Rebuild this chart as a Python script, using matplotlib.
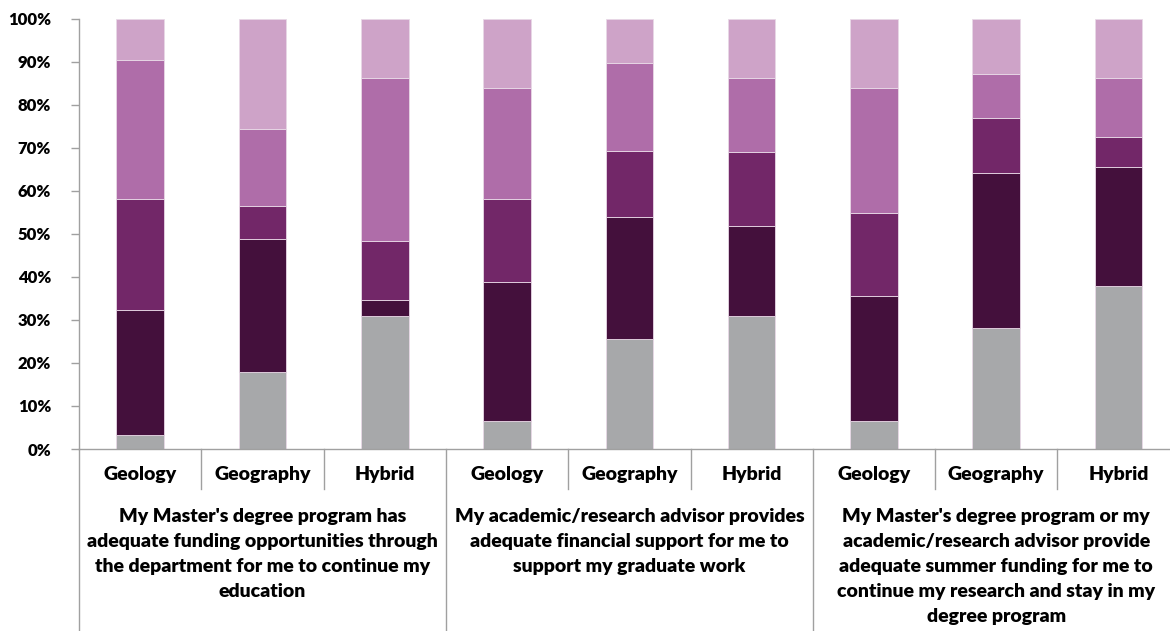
import matplotlib
matplotlib.use('Agg')
import matplotlib.pyplot as plt
import matplotlib.transforms as mtransforms

plt.rcParams['font.family'] = ['Lato', 'DejaVu Sans']
plt.rcParams['font.weight'] = 'heavy'

# Subgroups on the x axis, three per question
programs = ['Geology', 'Geography', 'Hybrid'] * 3
questions = [
    "My Master's degree program has\nadequate funding opportunities through\nthe department for me to continue my\neducation",
    "My academic/research advisor provides\nadequate financial support for me to\nsupport my graduate work",
    "My Master's degree program or my\nacademic/research advisor provide\nadequate summer funding for me to\ncontinue my research and stay in my\ndegree program",
]

# Stacked shares (%), bottom segment first
seg1 = [3.2, 17.9, 31.0, 6.5, 25.6, 31.0, 6.5, 28.2, 37.9]
seg2 = [29.0, 30.8, 3.5, 32.2, 28.2, 20.7, 29.0, 35.9, 27.6]
seg3 = [25.8, 7.7, 13.8, 19.4, 15.4, 17.2, 19.4, 12.8, 6.9]
seg4 = [32.3, 17.9, 37.9, 25.8, 20.5, 17.2, 29.0, 10.3, 13.8]
seg5 = [9.7, 25.6, 13.8, 16.1, 10.3, 13.8, 16.1, 12.8, 13.8]

colors = ['#a7a8aa', '#44103c', '#722768', '#af6da9', '#cea3c8']

fig = plt.figure(figsize=(11.7, 6.31), dpi=100)
ax = fig.add_axes([79 / 1170, 1 - 449 / 631, 1 - 79 / 1170, (449 - 18.5) / 631])

x = list(range(len(programs)))
bottom = [0] * len(x)
for vals, c in zip([seg1, seg2, seg3, seg4, seg5], colors):
    ax.bar(x, vals, width=0.39, bottom=bottom, color=c,
           edgecolor='#e8d8e6', linewidth=0.6)
    bottom = [b + v for b, v in zip(bottom, vals)]

ax.set_ylim(0, 100)
ax.set_xlim(-0.5, -0.5 + 1091 / 122.3)
ax.set_yticks(range(0, 101, 10))
ax.set_yticklabels([f'{v}%' for v in range(0, 101, 10)], fontsize=12, fontweight='heavy')
ax.set_xticks([])
ax.tick_params(axis='y', length=6, width=1, color='#a0a0a0', pad=14)

for s in ['top', 'right']:
    ax.spines[s].set_visible(False)
for s in ['left', 'bottom']:
    ax.spines[s].set_color('#a0a0a0')
    ax.spines[s].set_linewidth(1)

# category separators below the axis
trans = mtransforms.blended_transform_factory(ax.transData, ax.transAxes)
for i in range(len(programs) + 1):
    xb = i - 0.5
    y_low = -0.425 if i % 3 == 0 else -0.093
    ax.plot([xb, xb], [0, y_low], color='#a0a0a0', lw=1,
            transform=trans, clip_on=False)

for i, name in enumerate(programs):
    ax.text(i, -0.06, name, transform=trans, ha='center', va='center',
            fontsize=14, fontweight='heavy')

for g, q in enumerate(questions):
    ax.text(3 * g + 1, -0.136, q, transform=trans, ha='center', va='top',
            fontsize=14, fontweight='heavy', linespacing=1.58)

fig.savefig('out.png', dpi=100)
